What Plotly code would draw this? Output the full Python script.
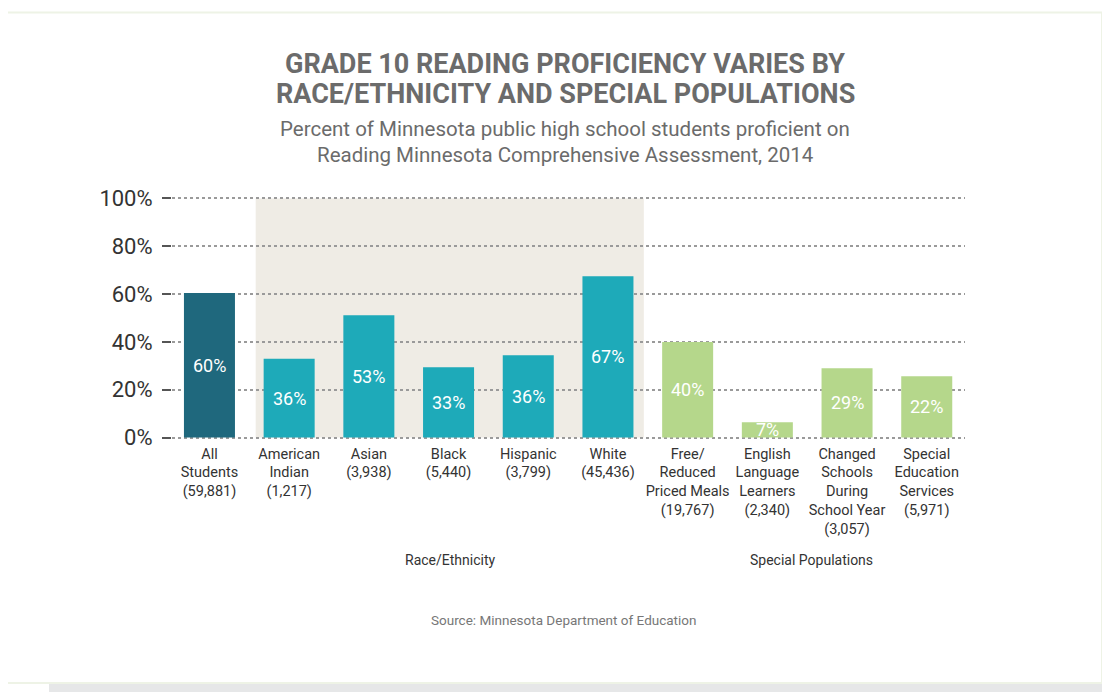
import plotly.graph_objects as go

# ---------------- data ----------------
categories = [
    "All<br>Students<br>(59,881)",
    "American<br>Indian<br>(1,217)",
    "Asian<br>(3,938)",
    "Black<br>(5,440)",
    "Hispanic<br>(3,799)",
    "White<br>(45,436)",
    "Free/<br>Reduced<br>Priced Meals<br>(19,767)",
    "English<br>Language<br>Learners<br>(2,340)",
    "Changed<br>Schools<br>During<br>School Year<br>(3,057)",
    "Special<br>Education<br>Services<br>(5,971)",
]
groups = ["all", "race", "race", "race", "race", "race", "special", "special", "special", "special"]
bar_heights = [60.5, 33, 51.2, 29.4, 34.4, 67.5, 40, 6.4, 29, 25.6]
bar_labels = ["60%", "36%", "53%", "33%", "36%", "67%", "40%", "7%", "29%", "22%"]
y_ticks = [0, 20, 40, 60, 80, 100]
y_tick_labels = ["0%", "20%", "40%", "60%", "80%", "100%"]
group_titles = ["Race/Ethnicity", "Special Populations"]
title_lines = ["GRADE 10 READING PROFICIENCY VARIES BY", "RACE/ETHNICITY AND SPECIAL POPULATIONS"]
subtitle_lines = ["Percent of Minnesota public high school students proficient on",
                  "Reading Minnesota Comprehensive Assessment, 2014"]
source_text = "Source: Minnesota Department of Education"

group_colors = {"all": "#1f687d", "race": "#1eaab9", "special": "#b5d78b"}
colors = [group_colors[g] for g in groups]
xs = list(range(len(categories)))

# ---------------- layout geometry ----------------
OFF = 8  # page body margin
W, H = 1110 - OFF, 692 - OFF
ML, MR, MT, MB = 172 - OFF, 145, 196 - OFF, 252
PW = W - ML - MR
PH = H - MT - MB


def px_x(px):
    return (px - OFF - ML) / PW


def px_y(py):
    return (H - MB - (py - OFF)) / PH


FONT = "Roboto, 'Noto Sans', sans-serif"


def note(x, y, text, size, color, bold=False):
    return dict(x=px_x(x), y=px_y(y), xref="paper", yref="paper", showarrow=False,
                text=f"<b>{text}</b>" if bold else text, xanchor="center", yanchor="middle",
                font=dict(family=FONT, size=size, color=color))


fig = go.Figure()
fig.add_trace(go.Bar(
    x=xs, y=bar_heights, marker=dict(color=colors, line=dict(width=0)),
    width=0.64, hoverinfo="skip", showlegend=False,
))

annotations = []
for x, h, t in zip(xs, bar_heights, bar_labels):
    annotations.append(dict(x=x, y=h / 2, text=t, showarrow=False, xref="x", yref="y",
                            xanchor="center", yanchor="middle",
                            font=dict(family=FONT, size=18, color="white")))

annotations += [
    note(565, 64, title_lines[0], 27, "#6b6b6b", bold=True),
    note(565, 94, title_lines[1], 27, "#6b6b6b", bold=True),
    note(565, 129, subtitle_lines[0], 20.5, "#6b6b6b"),
    note(565, 155, subtitle_lines[1], 20.5, "#6b6b6b"),
    note(450, 560, group_titles[0], 14, "#333333"),
    note(811, 560, group_titles[1], 14, "#333333"),
    note(563, 620, source_text, 13.5, "#777777"),
]

shapes = [
    # shadow
    dict(type="rect", xref="paper", yref="paper", x0=px_x(49), x1=px_x(1115), y0=px_y(700), y1=px_y(47),
         fillcolor="#e6e7e8", line=dict(width=0), layer="below"),
    # card
    dict(type="rect", xref="paper", yref="paper", x0=px_x(4), x1=px_x(1102), y0=px_y(683), y1=px_y(12.5),
         fillcolor="white", line=dict(color="#eef3e6", width=2), layer="below"),
    # race/ethnicity shaded band
    dict(type="rect", xref="x", yref="y", x0=0.58, x1=5.45, y0=0, y1=100,
         fillcolor="#efece5", line=dict(width=0), layer="below"),
]

fig.update_layout(
    width=W, height=H,
    margin=dict(l=ML, r=MR, t=MT, b=MB, pad=0),
    paper_bgcolor="white", plot_bgcolor="rgba(0,0,0,0)",
    annotations=annotations, shapes=shapes,
    font=dict(family=FONT, color="#333333"),
)
fig.update_xaxes(
    range=[-0.47, 9.48], tickvals=xs, ticktext=categories, showgrid=False, zeroline=False,
    showline=False, ticks="", tickfont=dict(family=FONT, size=14.5, color="#333333"), tickangle=0,
    fixedrange=True, ticklabelstandoff=3,
)
fig.update_yaxes(
    range=[-1, 101], tickvals=y_ticks, ticktext=y_tick_labels, showgrid=True,
    gridcolor="#9a9a9a", griddash="dot", gridwidth=1.5, zeroline=False, showline=False,
    ticks="outside", ticklen=9, tickwidth=2, tickcolor="#555555", ticklabelstandoff=5,
    tickfont=dict(family=FONT, size=22, color="#333333"), fixedrange=True,
)

fig.write_html("out.html")
